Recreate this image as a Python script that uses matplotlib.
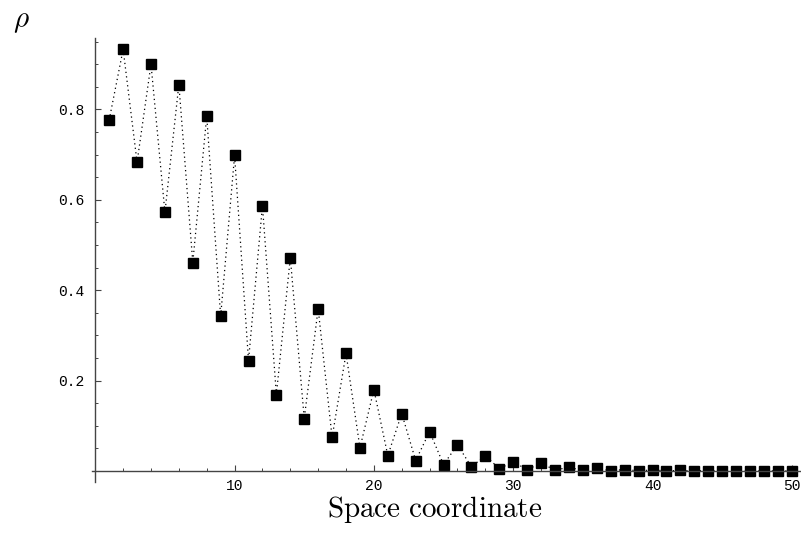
import numpy as np
import matplotlib
matplotlib.use("Agg")
import matplotlib.pyplot as plt
from matplotlib.ticker import MultipleLocator

# density profile, sites 1..50
site = np.arange(1, 51)
rho = [
    0.777, 0.933, 0.683, 0.900, 0.572, 0.855, 0.461, 0.785, 0.342, 0.698,
    0.244, 0.587, 0.169, 0.472, 0.116, 0.359, 0.074, 0.260, 0.051, 0.180,
    0.034, 0.127, 0.023, 0.087, 0.014, 0.058, 0.009, 0.034, 0.005, 0.020,
    0.003, 0.017, 0.002, 0.008, 0.001, 0.0055, 0.0005, 0.003, 0.0003, 0.002,
    0.0002, 0.001, 0.0001, 0.0007, 0.0001, 0.0004, 0.0001, 0.0002, 0.0, 0.0001,
]
xticks = [10, 20, 30, 40, 50]
yticks = [0.2, 0.4, 0.6, 0.8]

plt.rcParams["mathtext.fontset"] = "cm"

fig = plt.figure(figsize=(8.01, 5.33), dpi=100)
ax = fig.add_axes([0.1146, 0.0961, 0.8854, 0.8326])

ax.plot(site, rho, color="black", linestyle=(0, (1, 2.6)), linewidth=0.9)
ax.plot(site, rho, linestyle="none", marker="s", markersize=6.6,
        color="black")

ax.set_xlim(-0.25, 50.66)
ax.set_ylim(-0.024, 0.958)

# Mathematica style axes crossing at the origin
for side in ["top", "right"]:
    ax.spines[side].set_visible(False)
for side in ["left", "bottom"]:
    ax.spines[side].set_position(("data", 0))
    ax.spines[side].set_color("#444444")
    ax.spines[side].set_linewidth(1.0)

ax.set_xticks(xticks)
ax.set_yticks(yticks)
ax.set_xticklabels([str(t) for t in xticks])
ax.set_yticklabels([f"{t:.1f}".replace(".", ".") for t in yticks])
ax.xaxis.set_minor_locator(MultipleLocator(2))
ax.yaxis.set_minor_locator(MultipleLocator(0.05))
ax.tick_params(which="major", direction="in", length=4.5, width=0.8,
               color="#444444", labelsize=10.5, pad=6)
ax.tick_params(which="minor", direction="in", length=2.5, width=0.7,
               color="#444444")
ax.tick_params(axis="y", which="major", pad=8)
for lab in ax.get_xticklabels() + ax.get_yticklabels():
    lab.set_fontfamily("Liberation Mono")

fig.text(0.5425, 0.015, r"$\mathrm{Space\ coordinate}$", fontsize=21,
         ha="center", va="bottom")
fig.text(0.016, 0.935, r"$\rho$", fontsize=21, ha="left", va="bottom")

fig.savefig("out.png", dpi=100)
